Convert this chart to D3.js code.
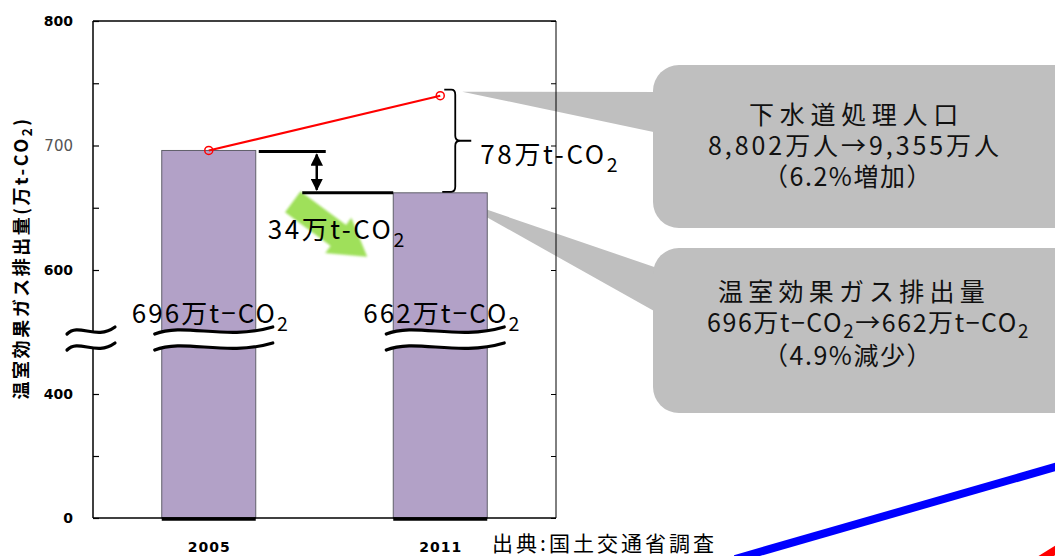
<!DOCTYPE html>
<html>
<head>
<meta charset="utf-8">
<script src="https://cdn.jsdelivr.net/npm/d3@7"></script>
<style>
  body { margin: 0; background: #fff; }
  svg { display: block; }
</style>
</head>
<body>
<svg id="chart" width="1055" height="556"></svg>
<script>
const years = ['2005', '2011'];
const emissions = [696, 662]; // 万t-CO2
const scaledEmissions = [696, 740]; // 処理人口の増加分を見込んだ排出量
const yTickValues = [0, 200, 400, 600, 650, 700, 750, 800];
const yTickLabels = { 0: '0', 400: '400', 600: '600', 700: '700', 800: '800' };
const barLabels = ['696万t−CO₂', '662万t−CO₂'];
const diffLabel = '34万t-CO₂';
const gapLabel = '78万t-CO₂';
const popLines = ['下水道処理人口', '8,802万人→9,355万人', '（6.2%増加）'];
const ghgLines = ['温室効果ガス排出量', '696万t−CO₂→662万t−CO₂', '（4.9%減少）'];
const yTitle = '温室効果ガス排出量(万t-CO₂)';
const source = '出典:国土交通省調査';

const CJK = '"Noto Sans CJK JP", "Noto Sans", sans-serif';
const plot = { left: 93, right: 556, top: 21, bottom: 518 };
const barWidth = 94;

const svg = d3.select('#chart');

// broken axis: 0-400 and 400-600 squeezed, 600-800 at full scale
const y = d3.scaleLinear().domain([0, 400, 600, 800]).range([plot.bottom, 394, 270, plot.top]);
const x = d3.scalePoint().domain(years).range([plot.left, plot.right]).padding(0.5);

// text helper: "₂" becomes a lowered small 2
function rich(sel, str, drop = 7) {
  str.split(/(₂)/).filter((s) => s).forEach((part, i, arr) => {
    if (part === '₂') {
      sel.append('tspan').attr('font-size', '0.75em').attr('dy', drop).text('2');
    } else {
      const t = sel.append('tspan').text(part);
      if (i > 0 && arr[i - 1] === '₂') t.attr('dy', -drop);
    }
  });
  return sel;
}

function fit(sel, width) {
  const n = [...sel.text()].length;
  const cur = sel.node().getComputedTextLength();
  sel.attr('letter-spacing', ((width - cur) / n).toFixed(2));
  return sel;
}

// ---- callouts (behind everything) ----
const boxes = [
  { lines: popLines, top: 65, h: 163, tip: [x('2011') + 22, y(740) - 4], base: [92, 134],
    left: [749, 708, 763], width: [215, 294, 170], base0: [124, 155, 186] },
  { lines: ghgLines, top: 248, h: 165, tip: [x('2011') + 12, y(662) + 5], base: [270, 316],
    left: [718, 707, 763], width: [272, 323, 170], base0: [301, 332, 365] }
];
const boxX = 653;
boxes.forEach((b) => {
  svg.append('path')
    .attr('d', `M${b.tip[0]},${b.tip[1]} L${boxX + 10},${b.base[0]} L${boxX + 10},${b.base[1]} Z`)
    .attr('fill', '#bfbfbf');
  svg.append('rect')
    .attr('x', boxX).attr('y', b.top).attr('width', 430).attr('height', b.h)
    .attr('rx', 26).attr('fill', '#bfbfbf');
  b.lines.forEach((line, i) => {
    const t = svg.append('text')
      .attr('x', b.left[i]).attr('y', b.base0[i])
      .attr('font-family', CJK).attr('font-size', 25).attr('fill', '#111');
    rich(t, line, 6);
    fit(t, b.width[i]);
  });
});

// ---- bars ----
svg.selectAll('rect.bar')
  .data(emissions)
  .join('rect')
  .attr('class', 'bar')
  .attr('x', (d, i) => x(years[i]) - barWidth / 2)
  .attr('y', (d) => y(d))
  .attr('width', barWidth)
  .attr('height', (d) => y(0) - y(d))
  .attr('fill', '#b2a1c7')
  .attr('stroke', '#5f5f6a')
  .attr('stroke-width', 1);

// ---- frame and axes ----
const frame = svg.append('g').attr('fill', 'none').attr('stroke', '#000');
frame.append('line').attr('x1', plot.left).attr('x2', plot.right).attr('y1', plot.top).attr('y2', plot.top).attr('stroke-width', 1.5);
frame.append('line').attr('x1', plot.right).attr('x2', plot.right).attr('y1', plot.top).attr('y2', plot.bottom).attr('stroke-width', 1);
frame.append('line').attr('x1', plot.left).attr('x2', plot.right).attr('y1', plot.bottom).attr('y2', plot.bottom).attr('stroke-width', 1.5);
frame.append('line').attr('x1', plot.left).attr('x2', plot.left).attr('y1', plot.top).attr('y2', plot.bottom).attr('stroke-width', 1.5);

svg.selectAll('line.base')
  .data(years)
  .join('line')
  .attr('class', 'base')
  .attr('x1', (d) => x(d) - barWidth / 2)
  .attr('x2', (d) => x(d) + barWidth / 2)
  .attr('y1', plot.bottom + 1)
  .attr('y2', plot.bottom + 1)
  .attr('stroke', '#000')
  .attr('stroke-width', 3.5);

const yAxis = svg.append('g')
  .attr('transform', `translate(${plot.left},0)`)
  .call(d3.axisLeft(y).tickValues(yTickValues).tickSize(-6).tickPadding(20)
    .tickFormat((d) => yTickLabels[d] ?? ''));
yAxis.select('.domain').remove();
yAxis.selectAll('.tick line').attr('stroke', '#000').attr('stroke-width', 1.2);
yAxis.selectAll('.tick text')
  .attr('font-family', '"DejaVu Sans", sans-serif')
  .attr('font-size', (d) => (d === 700 ? 15 : 14))
  .attr('font-weight', (d) => (d === 700 ? 'normal' : 'bold'))
  .attr('fill', (d) => (d === 700 ? '#555' : '#000'));

const yAxisR = svg.append('g')
  .attr('transform', `translate(${plot.right},0)`)
  .call(d3.axisRight(y).tickValues(yTickValues).tickSize(-5).tickFormat(''));
yAxisR.select('.domain').remove();
yAxisR.selectAll('.tick line').attr('stroke', '#000');

const xAxis = svg.append('g')
  .attr('transform', `translate(0,${plot.bottom})`)
  .call(d3.axisBottom(x).tickSize(0).tickPadding(24));
xAxis.select('.domain').remove();
xAxis.selectAll('.tick text')
  .attr('font-family', '"DejaVu Sans", sans-serif')
  .attr('font-size', 14)
  .attr('font-weight', 'bold')
  .attr('letter-spacing', 1)
  .attr('fill', '#000');

// y title
const yt = svg.append('text')
  .attr('transform', `translate(28,${(y(740) + y(380)) / 2 + 10}) rotate(-90)`)
  .attr('text-anchor', 'middle')
  .attr('font-family', CJK)
  .attr('font-size', 18)
  .attr('font-weight', 'bold')
  .attr('fill', '#000');
rich(yt, yTitle, 4);
fit(yt, 283);

// ---- axis break marks ----
const breakY = y(500) + 7;
function wave(x0, x1, yc) {
  const w = x1 - x0;
  return `M${x0},${yc + 3} C${x0 + 0.25 * w},${yc - 9} ${x0 + 0.6 * w},${yc + 10} ${x1},${yc - 4}`;
}
function band(x0, x1, yc) {
  const w = x1 - x0;
  const a = yc - 8;
  const b = yc + 8;
  return `M${x0},${a + 3} C${x0 + 0.25 * w},${a - 9} ${x0 + 0.6 * w},${a + 10} ${x1},${a - 4}` +
    ` L${x1},${b - 4} C${x0 + 0.6 * w},${b + 10} ${x0 + 0.25 * w},${b - 9} ${x0},${b + 3} Z`;
}
const breaks = [[67, 115]].concat(years.map((d) => [x(d) - 54, x(d) + 64]));
breaks.forEach(([x0, x1]) => {
  svg.append('path').attr('d', band(x0, x1, breakY)).attr('fill', '#fff');
  [-8, 8].forEach((o) => {
    svg.append('path').attr('d', wave(x0, x1, breakY + o))
      .attr('fill', 'none').attr('stroke', '#000').attr('stroke-width', 3.2).attr('stroke-linecap', 'round');
  });
});

// ---- green arrow ----
const tail = [x('2005') + 84, y(662) + 9];
const tip = [x('2011') - 73, y(662) + 64];
const ang = Math.atan2(tip[1] - tail[1], tip[0] - tail[0]);
const len = Math.hypot(tip[0] - tail[0], tip[1] - tail[1]);
const arrowShape = [[0, -13], [len - 36, -13], [len - 36, -22], [len, 0], [len - 36, 22], [len - 36, 13], [0, 13]];
svg.append('defs').html(
  '<filter id="soft" x="-10%" y="-10%" width="120%" height="120%"><feGaussianBlur stdDeviation="1.2"/></filter>' +
  '<marker id="ah" viewBox="0 0 10 10" refX="9" refY="5" markerWidth="5" markerHeight="5" orient="auto-start-reverse">' +
  '<path d="M0,0 L10,5 L0,10 Z" fill="#000"/></marker>'
);
svg.append('polygon')
  .attr('points', arrowShape.map((p) => p.join(',')).join(' '))
  .attr('transform', `translate(${tail[0]},${tail[1]}) rotate(${(ang * 180) / Math.PI})`)
  .attr('fill', '#9fe05a')
  .attr('filter', 'url(#soft)');

// ---- difference bracket ----
const ink = svg.append('g').attr('stroke', '#000');
ink.append('line')
  .attr('x1', x('2005') + barWidth / 2 + 3).attr('x2', x('2005') + barWidth / 2 + 70)
  .attr('y1', y(696) + 1).attr('y2', y(696) + 1).attr('stroke-width', 3);
ink.append('line')
  .attr('x1', x('2011') - barWidth / 2 - 91).attr('x2', x('2011') - barWidth / 2)
  .attr('y1', y(662)).attr('y2', y(662)).attr('stroke-width', 3);
ink.append('line')
  .attr('x1', x('2005') + 108).attr('x2', x('2005') + 108)
  .attr('y1', y(696) + 4).attr('y2', y(662) - 3)
  .attr('stroke-width', 2.5)
  .attr('marker-start', 'url(#ah)').attr('marker-end', 'url(#ah)');

// ---- red line (scaled by population) ----
const pts = years.map((d, i) => [x(d), y(scaledEmissions[i])]);
svg.append('path')
  .attr('d', d3.line()(pts))
  .attr('fill', 'none').attr('stroke', '#ff0000').attr('stroke-width', 2.2);
svg.selectAll('circle.pt')
  .data(pts)
  .join('circle')
  .attr('class', 'pt')
  .attr('cx', (d) => d[0]).attr('cy', (d) => d[1]).attr('r', 4)
  .attr('fill', 'none').attr('stroke', '#ff0000').attr('stroke-width', 1.5);

// ---- brace for 78万t ----
const bx = x('2011') + 15;
const bTop = y(740) - 6;
const bBot = y(662) - 1;
const bMid = (bTop + bBot) / 2;
svg.append('path')
  .attr('d', `M${bx - 11},${bTop} H${bx - 4} Q${bx},${bTop} ${bx},${bTop + 5} V${bMid - 5} Q${bx},${bMid} ${bx + 5},${bMid} H${bx + 16}` +
    ` M${bx + 5},${bMid} Q${bx},${bMid} ${bx},${bMid + 5} V${bBot - 5} Q${bx},${bBot} ${bx - 4},${bBot} H${bx - 13}`)
  .attr('fill', 'none').attr('stroke', '#000').attr('stroke-width', 1.8);

// ---- value labels ----
function label(str, x0, base, width) {
  const t = svg.append('text')
    .attr('x', x0).attr('y', base)
    .attr('font-family', CJK).attr('font-size', 26).attr('fill', '#000');
  rich(t, str, 8);
  fit(t, width);
  return t;
}
barLabels.forEach((s, i) => label(s, x(years[i]) - 77, y(500) - 9, 158));
label(diffLabel, x('2005') + 59, y(662) + 46, 139);
label(gapLabel, bx + 25, bMid + 23, 140);

// ---- source ----
const src = svg.append('text')
  .attr('x', 492).attr('y', 551)
  .attr('font-family', CJK).attr('font-size', 21).attr('fill', '#000')
  .text(source);
fit(src, 225);

// ---- decorative strokes at the bottom right ----
svg.append('line')
  .attr('x1', 735).attr('y1', 559).attr('x2', 1062).attr('y2', 465)
  .attr('stroke', '#0000ff').attr('stroke-width', 8);
svg.append('line')
  .attr('x1', 1038).attr('y1', 561).attr('x2', 1064).attr('y2', 545)
  .attr('stroke', '#ff0000').attr('stroke-width', 8);
</script>
</body>
</html>
